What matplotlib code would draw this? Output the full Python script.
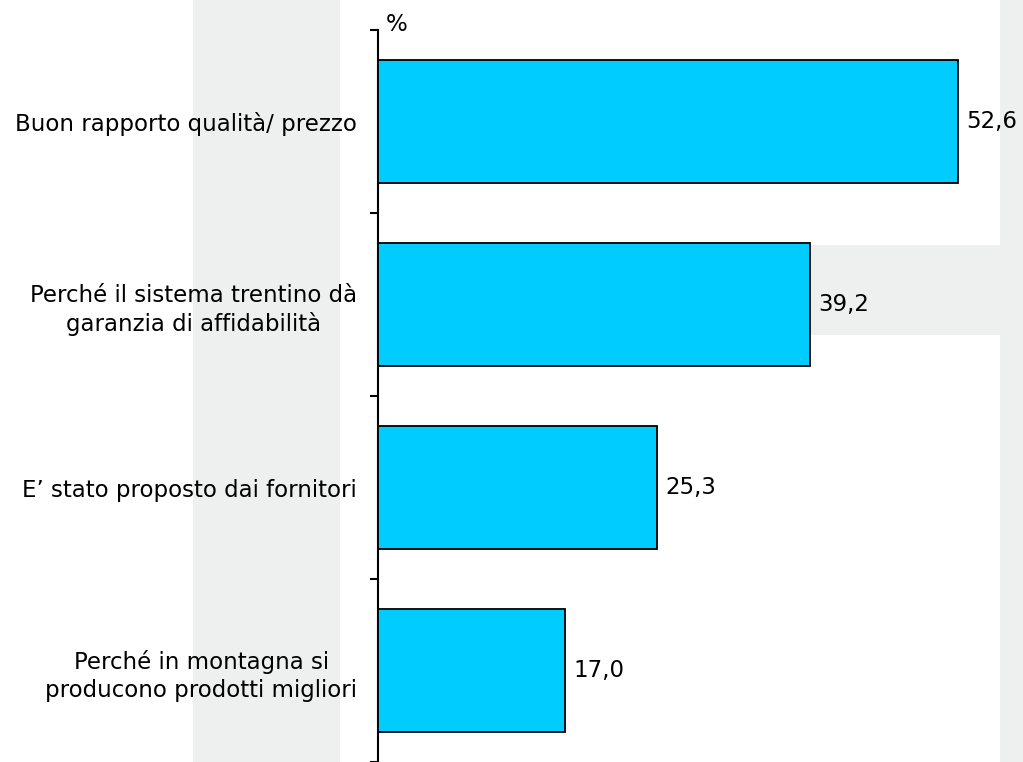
import matplotlib
matplotlib.use("Agg")
import matplotlib.pyplot as plt
from matplotlib.patches import Rectangle

categories = [
    "Buon rapporto qualità/ prezzo",
    "Perché il sistema trentino dà\ngaranzia di affidabilità",
    "E’ stato proposto dai fornitori",
    "Perché in montagna si\nproducono prodotti migliori",
]
values = [52.6, 39.2, 25.3, 17.0]
value_labels = ["52,6", "39,2", "25,3", "17,0"]

W, H, DPI = 1023, 762, 100
FS = 16.5
fig = plt.figure(figsize=(W / DPI, H / DPI), dpi=DPI)
fig.patch.set_facecolor("white")

# faint background watermark shapes on a pixel-coordinate backdrop
bg = fig.add_axes([0, 0, 1, 1], zorder=-1)
bg.set_xlim(0, W)
bg.set_ylim(H, 0)
bg.axis("off")
wm = "#eef0f0"
for x0, y0, w, h in [(193, 0, 147, H), (705, 245, 318, 90), (1000, 0, 23, H)]:
    bg.add_patch(Rectangle((x0, y0), w, h, facecolor=wm, edgecolor="none"))

ax = fig.add_axes([378 / W, 0, (W - 378) / W, (H - 30) / H])
ax.set_facecolor("none")

ypos = list(range(len(values)))
ax.barh(ypos, values, height=0.67, color="#00CCFF", edgecolor="black",
        linewidth=1.3, zorder=3)

ax.set_xlim(0, (W - 378) / 11.027)
ax.set_ylim(len(values) - 0.5, -0.5)

for sp in ["top", "right", "bottom"]:
    ax.spines[sp].set_visible(False)
ax.spines["left"].set_linewidth(1.5)
ax.spines["left"].set_color("black")
ax.set_xticks([])

# boundary ticks without labels, category labels at band centres
ax.set_yticks([i - 0.5 for i in range(len(values) + 1)])
ax.set_yticklabels([])
ax.tick_params(axis="y", which="major", direction="out", length=5.8, width=1.5)
ax.set_yticks(ypos, minor=True)
ax.set_yticklabels(categories, minor=True, fontsize=FS, multialignment="center",
                   linespacing=1.3)
ax.tick_params(axis="y", which="minor", length=0, pad=15)

for y, v, lab in zip(ypos, values, value_labels):
    ax.annotate(lab, (v, y), xytext=(6, 0), textcoords="offset points",
                va="center", ha="left", fontsize=FS)

ax.annotate("%", (0, 1), xycoords="axes fraction", xytext=(5.5, -1),
            textcoords="offset points", ha="left", va="baseline", fontsize=FS)

fig.savefig("out.png", dpi=DPI)
